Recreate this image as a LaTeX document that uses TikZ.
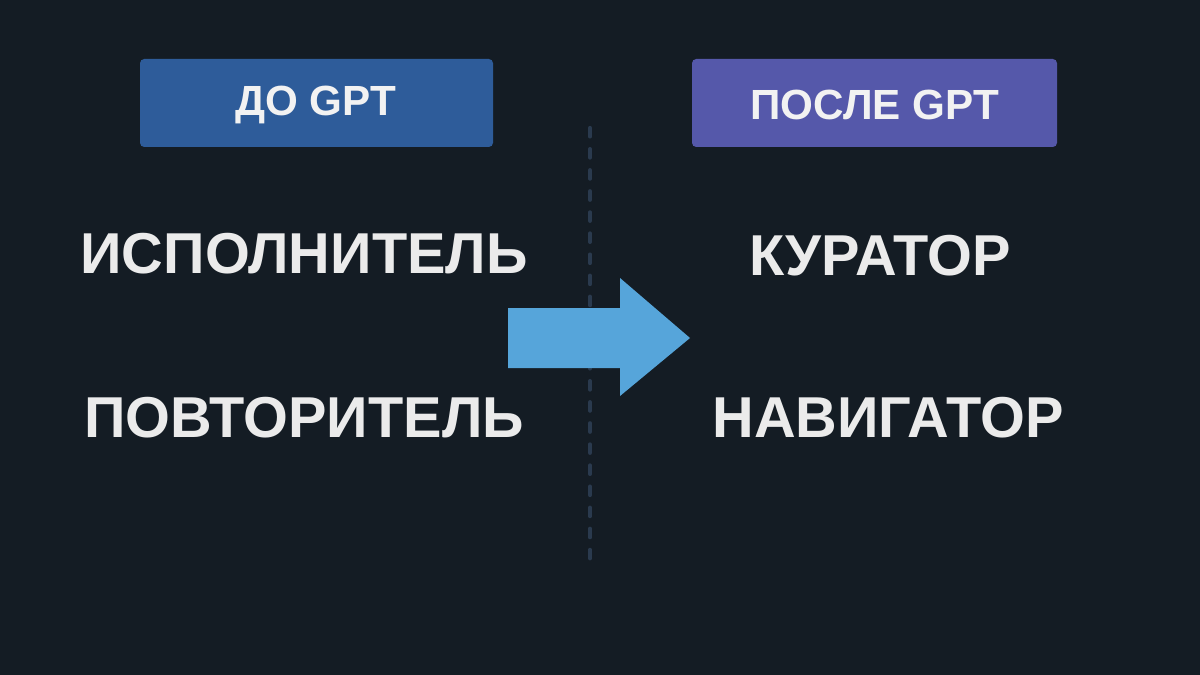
\documentclass[tikz,border=0pt]{standalone}
\usepackage{fontspec}
\setmainfont{Liberation Sans}
\begin{document}
\begin{tikzpicture}[x=0.025cm,y=-0.025cm,
  big/.style={text=white!92!black,font=\bfseries\fontsize{41}{41}\selectfont,inner sep=0},
  lab/.style={text=white!95!black,font=\bfseries\fontsize{30}{30}\selectfont,inner sep=0}]
\definecolor{bg}{HTML}{141C24}
\definecolor{lbox}{HTML}{2E5C9A}
\definecolor{rbox}{HTML}{5558AA}
\definecolor{arr}{HTML}{56A5DA}
\definecolor{dots}{HTML}{2A3A4E}
\fill[bg] (0,0) rectangle (1200,675);
\useasboundingbox (0,0) rectangle (1200,675);
\fill[lbox,rounded corners=3pt] (140,59) rectangle (493,147);
\fill[rbox,rounded corners=3pt] (692,59) rectangle (1057,147);
\node[lab] (l) at (316,105) {ДО GPT};
\node[lab] (r) at (875,105) {ПОСЛЕ GPT};
\coordinate (d1) at (590,128);
\coordinate (d2) at (590,565);
\draw[dots,line width=3pt,dash pattern=on 6pt off 9pt,line cap=round] (d1) -- (d2);
\fill[arr] (508,308) -- (620,308) -- (620,278) -- (690,338) -- (620,396) -- (620,368) -- (508,368) -- cycle;
\node[big] (a) at (304,254) {ИСПОЛНИТЕЛЬ};
\node[big] (b) at (304,418) {ПОВТОРИТЕЛЬ};
\node[big] (c) at (880,256) {КУРАТОР};
\node[big] (d) at (888,418) {НАВИГАТОР};
\end{tikzpicture}
\end{document}
